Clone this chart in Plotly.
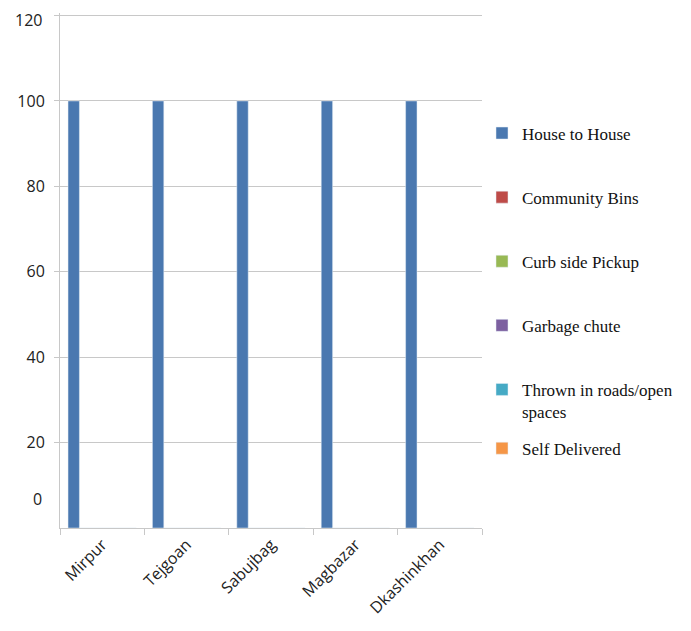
import plotly.graph_objects as go

categories = ["Mirpur", "Tejgoan", "Sabujbag", "Magbazar", "Dkashinkhan"]
series_names = ["House to House", "Community Bins", "Curb side Pickup",
                "Garbage chute", "Thrown in roads/open<br>spaces", "Self Delivered"]
house_to_house = [100, 100, 100, 100, 100]
community_bins = [0, 0, 0, 0, 0]
curb_side = [0, 0, 0, 0, 0]
garbage_chute = [0, 0, 0, 0, 0]
thrown_roads = [0, 0, 0, 0, 0]
self_delivered = [0, 0, 0, 0, 0]
y_ticks = [20, 40, 60, 80, 100, 120]
y_tick_labels = ["20", "40", "60", "80", "100", ""]

colors = ["#4A78B0", "#BE4B48", "#98B954", "#7D60A0", "#46AAC5", "#F59647"]
values = [house_to_house, community_bins, curb_side, garbage_chute, thrown_roads, self_delivered]

fig = go.Figure()
for i, (name, vals, col) in enumerate(zip(series_names, values, colors)):
    fig.add_trace(go.Bar(
        x=categories, y=vals, name=name, marker_color=col,
        legendgroup=f"g{i}",
        legend="legend2" if i == 5 else "legend",
    ))

grid = "#C8C8C8"
tick_font = dict(family="Open Sans", size=16, color="#222")
fig.update_layout(
    width=683, height=623,
    margin=dict(l=52, r=209, t=5, b=103, autoexpand=False),
    paper_bgcolor="white", plot_bgcolor="white",
    barmode="group", bargap=0.19, bargroupgap=0,
    showlegend=True,
    legend=dict(
        x=1.0, xanchor="left", y=0.801, yanchor="top",
        font=dict(family="Liberation Serif", size=17, color="#111"),
        tracegroupgap=39, valign="top", bgcolor="rgba(0,0,0,0)",
    ),
    legend2=dict(
        x=1.0, xanchor="left", y=0.189, yanchor="top",
        font=dict(family="Liberation Serif", size=17, color="#111"),
        valign="top", bgcolor="rgba(0,0,0,0)",
    ),
    xaxis=dict(
        showline=True, linecolor=grid, linewidth=1,
        ticks="outside", tickson="boundaries", ticklen=6, tickcolor=grid,
        tickangle=-45, showgrid=False,
        tickfont=tick_font,
    ),
    yaxis=dict(
        range=[0, 120.6], tickvals=y_ticks, ticktext=y_tick_labels,
        showline=True, linecolor=grid, linewidth=1,
        showgrid=True, gridcolor=grid, gridwidth=1,
        ticks="outside", ticklen=5, tickcolor=grid,
        ticklabelstandoff=6,
        tickfont=tick_font,
        zeroline=False,
    ),
    annotations=[
        dict(text="0", xref="paper", yref="y", x=-0.038, y=6.7,
             xanchor="right", yanchor="middle", showarrow=False, font=tick_font),
        dict(text="120", xref="paper", yref="y", x=-0.038, y=119.0,
             xanchor="right", yanchor="middle", showarrow=False, font=tick_font),
    ],
)

fig.write_html("out.html")
